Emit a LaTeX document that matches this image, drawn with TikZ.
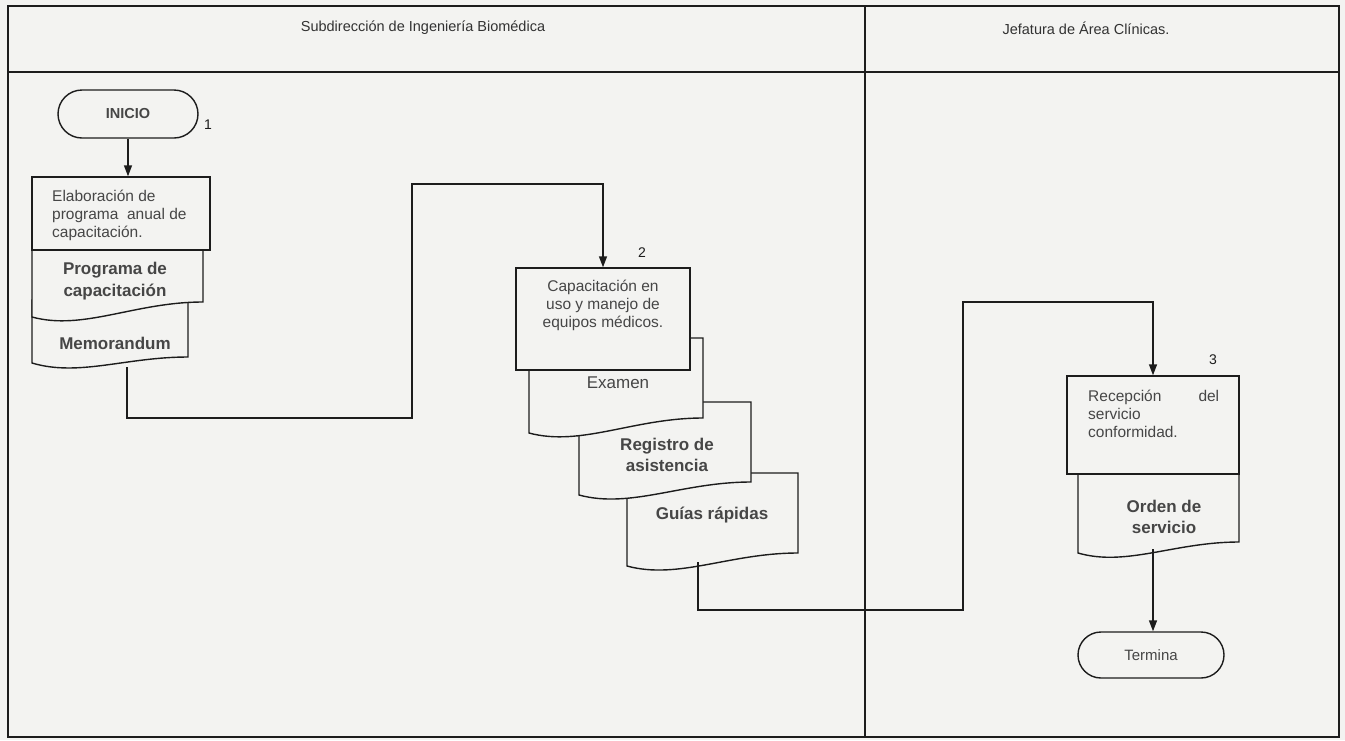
\documentclass[tikz,border=0pt]{standalone}
\usepackage{fontspec}
\setmainfont{Liberation Sans}
\usetikzlibrary{arrows.meta}
\definecolor{bg}{RGB}{243,243,241}
\definecolor{ink}{RGB}{28,28,28}
\definecolor{txt}{RGB}{70,70,70}
\definecolor{hdr}{RGB}{50,50,50}
\newcommand\docshape[5]{% x1 ytop x2 yR yL
  \pgfmathsetmacro\dw{#3-#1}%
  \filldraw[docline] (#1,#2) -- (#3,#2) -- (#3,#4)
    .. controls ({#3-0.4*\dw},{#4}) and ({#1+0.3*\dw},{#5+14}) .. (#1,#5) -- cycle;}
\begin{document}
\begin{tikzpicture}[x=1pt,y=-1pt,
  frame/.style={draw=ink,line width=1.3pt},
  docline/.style={draw=ink,fill=bg,line width=1.4pt},
  procbox/.style={draw=ink,fill=bg,line width=1.4pt,inner sep=0pt},
  termbox/.style={draw=ink,fill=bg,line width=1.4pt,inner sep=0pt,font=\fontsize{15}{18}\selectfont,text=txt},
  arr/.style={draw=ink,line width=1.4pt,-{Triangle[length=11pt,width=8pt]}},
  conn/.style={draw=ink,line width=1.4pt},
  small/.style={font=\fontsize{15.5}{18}\selectfont,text=txt,inner sep=0pt},
  doclbl/.style={font=\fontsize{17}{21.5}\selectfont\bfseries,text=txt,inner sep=0pt,align=center},
  header/.style={font=\fontsize{14.5}{17}\selectfont,text=hdr,inner sep=0pt},
  num/.style={font=\fontsize{14}{16}\selectfont,text=ink,inner sep=0pt}]
\useasboundingbox (0,0) rectangle (1345,740);
\fill[bg] (0,0) rectangle (1345,740);
% frame and lanes
\draw[frame] (8,6) rectangle (1339,737);
\draw[frame] (8,72) -- (1339,72);
\draw[frame] (865,6) -- (865,737);
\node[header] (h1) at (423,28) {Subdirección de Ingeniería Biomédica};
\node[header] (h2) at (1086,28) {Jefatura de Área Clínicas.};

% ---------- lane 1, step 1
\node[termbox,rounded corners=24pt,minimum width=140pt,minimum height=48pt,font=\fontsize{14.5}{17}\selectfont\bfseries] (inicio) at (128,114) {INICIO};
\node[num] (n1) at (208,125) {1};
\docshape{32}{300}{188}{357}{363}
\docshape{32}{245}{203}{302}{317}
\node[procbox,minimum width=178pt,minimum height=73pt] (box1) at (121,213.5) {};
\node[small,anchor=west,align=left] (t1) at (52,215) {Elaboración de\\programa\ \ anual de\\capacitación.};
\node[doclbl] (d1) at (115,281) {Programa de\\capacitación};
\node[doclbl] (d2) at (115,343) {Memorandum};
\draw[arr] (inicio.south) -- (inicio.south |- box1.north);

% ---------- lane 1, step 2
\docshape{627}{473}{798}{553}{566}
\docshape{579}{402}{751}{482}{495}
\docshape{529}{338}{703}{418}{433}
\node[procbox,minimum width=174pt,minimum height=102pt] (box2) at (603,319) {};
\node[small,align=center] (t2) at (603,305) {Capacitación en\\uso y manejo de\\equipos médicos.};
\node[num] (n2) at (642,253) {2};
\node[doclbl,font=\fontsize{17}{21.5}\selectfont] (d3) at (618,383) {Examen};
\node[doclbl] (d4) at (667,455) {Registro de\\asistencia};
\node[doclbl] (d5) at (712,515) {Guías rápidas};

\coordinate (memob) at (127,367);
\coordinate (j1) at (412,418);
\coordinate (j2) at (412,184);
\draw[arr] (memob) |- (j1) -- (j2) -| (box2.north);

% ---------- lane 2, step 3
\docshape{1078}{465}{1239}{542}{553}
\node[procbox,minimum width=172pt,minimum height=98pt] (box3) at (1153,425) {};
\node[small,anchor=west,align=left,text width=131pt] (t3) at (1088,414) {Recepción\hfill del\\servicio\\conformidad.};
\node[num] (n3) at (1213,360) {3};
\node[doclbl] (d6) at (1164,517) {Orden de\\servicio};
\node[termbox,rounded corners=23pt,minimum width=146pt,minimum height=46pt] (term) at (1151,655) {Termina};

\coordinate (guib) at (698,562);
\coordinate (j3) at (963,610);
\coordinate (j4) at (963,302);
\draw[arr] (guib) |- (j3) -- (j4) -| (box3.north);

\coordinate (ordb) at (1153,549);
\draw[arr] (ordb) -- (ordb |- term.north);
\end{tikzpicture}
\end{document}
